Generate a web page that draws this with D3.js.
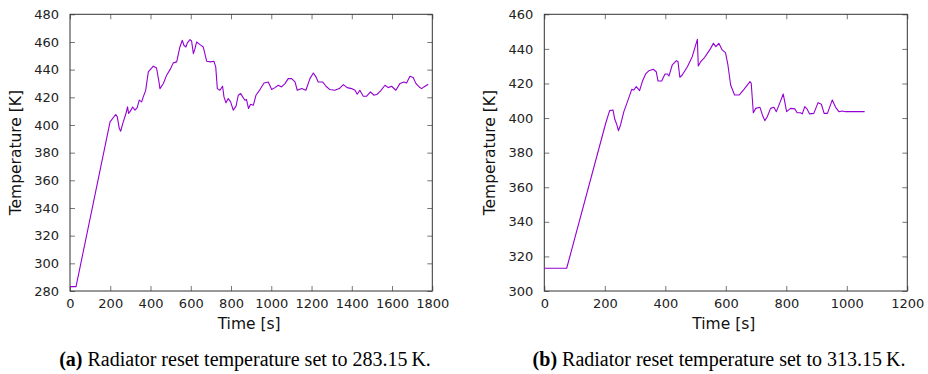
<!DOCTYPE html>
<html>
<head>
<meta charset="utf-8">
<script src="https://cdn.jsdelivr.net/npm/d3@7"></script>
<style>
  body { margin: 0; background: #fff; }
  svg { display: block; }
  .tick text { font-family: "DejaVu Sans", sans-serif; font-size: 13px; fill: #222; }
  .axis-label { font-family: "DejaVu Sans", sans-serif; font-size: 15.5px; fill: #111; }
  .caption { font-family: "Liberation Serif", "Times New Roman", serif; font-size: 20px; fill: #000; }
</style>
</head>
<body>
<div id="chart"></div>
<script>
// (a) reset temperature 283.15 K
const timeA = [0, 30, 199, 227, 235, 245, 252, 262, 278, 286, 291, 303, 311, 323, 334, 344, 356, 364, 376, 389,
  414, 430, 442, 447, 464, 480, 497, 513, 530, 546, 558, 566, 576, 583, 596, 604, 613, 621, 629, 646,
  662, 679, 699, 715, 724, 732, 745, 758, 765, 775, 786, 798, 811, 825, 836, 848, 858, 869, 877, 887,
  897, 911, 924, 944, 964, 985, 1002, 1018, 1035, 1051, 1068, 1084, 1101, 1118, 1129, 1151, 1172, 1192, 1209, 1222,
  1233, 1255, 1272, 1291, 1316, 1338, 1358, 1377, 1399, 1416, 1427, 1440, 1457, 1474, 1493, 1510, 1526, 1543, 1565, 1581,
  1598, 1619, 1639, 1659, 1672, 1689, 1705, 1719, 1735, 1747, 1758, 1780];
const tempA = [283.15, 283.15, 402.3, 407.6, 405.9, 397.4, 395.5, 401, 408.3, 413.1, 408.3, 410.7, 413, 410.7, 412.6, 418, 416.7, 420.3, 425, 438.4,
  442.5, 441.2, 431.1, 426.3, 430, 436, 440, 444.9, 445.6, 456.4, 461.2, 457.6, 456.4, 459.3, 461.7, 460.7, 451.6, 455.2, 460, 458.1,
  456.4, 446.1, 445.6, 446.1, 442, 426.3, 425.1, 428, 420.3, 416, 419.1, 416.7, 410.7, 413.6, 421.5, 422.7, 420.3, 417.9, 418.4, 411.9,
  415, 414.3, 421.5, 425.6, 430.4, 431.1, 425.6, 427, 428.7, 427.5, 429.9, 433.5, 433.5, 431.1, 425.1, 426.3, 425.1, 433.5, 437.6, 434.8,
  431.1, 431.1, 428, 425.6, 425.1, 426.3, 429.2, 427, 426.3, 425.1, 422.2, 425.1, 420.8, 420.8, 423.9, 421.5, 422.2, 424.6, 428.7, 427,
  428, 425.1, 429.9, 431.1, 430.4, 435.2, 434.3, 429.9, 427.5, 426.3, 427.5, 429.4];

// (b) reset temperature 313.15 K
const timeB = [0, 74, 203, 216, 227, 233, 239, 245, 252, 263, 277, 289, 296, 304, 315, 324, 335, 346, 360, 370,
  376, 388, 399, 407, 412, 423, 437, 442, 448, 456, 473, 489, 506, 509, 517, 528, 539, 550, 559, 567,
  577, 588, 599, 607, 616, 629, 644, 660, 680, 684, 691, 699, 713, 721, 729, 737, 748, 759, 767, 776,
  790, 801, 814, 828, 836, 847, 853, 861, 869, 877, 891, 905, 916, 925, 936, 944, 952, 963, 974, 985,
  996, 1059];
const tempB = [313.15, 313.15, 397, 404.3, 404.7, 399.3, 396.6, 392.7, 396, 403.7, 410.5, 416.6, 416.2, 418.2, 415.9, 421.1, 425.5, 427.4, 428.2, 426.8,
  421.4, 421.4, 425.5, 425.5, 424.3, 430.7, 433.2, 432.6, 423.6, 424.9, 429.7, 435.5, 445.5, 430.1, 432.6, 434.6, 437.4, 440.3, 443.2, 441.3,
  443.2, 439.4, 437.8, 430.7, 419.1, 413.3, 413.3, 416.6, 421.1, 420.1, 403.1, 405.6, 406.2, 401.8, 398.5, 400.8, 405.6, 406.2, 403.7, 407.6,
  413.9, 403.7, 405.6, 405.3, 403.1, 403.1, 402.4, 406.6, 405.1, 402.4, 402.7, 408.9, 408, 402.7, 402.7, 406.6, 410.5, 406.2, 403.7, 404.1,
  403.7, 403.7];

const xTicksA = [0, 200, 400, 600, 800, 1000, 1200, 1400, 1600, 1800];
const yTicksA = [280, 300, 320, 340, 360, 380, 400, 420, 440, 460, 480];
const xTicksB = [0, 200, 400, 600, 800, 1000, 1200];
const yTicksB = [300, 320, 340, 360, 380, 400, 420, 440, 460];

const captionA = ["(a)", " Radiator reset temperature set to 283.15\u2009K."];
const captionB = ["(b)", " Radiator reset temperature set to 313.15\u2009K."];

const svg = d3.select("#chart").append("svg")
    .attr("width", 928)
    .attr("height", 374);

function drawPanel(opts) {
    const { left, right, top, bottom, xDomain, yDomain, xTicks, yTicks, time, temp, id } = opts;
    const x = d3.scaleLinear().domain(xDomain).range([left, right]);
    const y = d3.scaleLinear().domain(yDomain).range([bottom, top]);
    const g = svg.append("g");

    g.append("clipPath").attr("id", id)
        .append("rect")
        .attr("x", left).attr("y", top)
        .attr("width", right - left).attr("height", bottom - top);

    const styleAxis = sel => {
        sel.select(".domain").remove();
        sel.selectAll(".tick line").attr("stroke", "#777");
    };

    g.append("g")
        .attr("transform", `translate(0,${bottom})`)
        .call(d3.axisBottom(x).tickValues(xTicks).tickSize(-5).tickPadding(8).tickFormat(d3.format("d")))
        .call(styleAxis);
    g.append("g")
        .attr("transform", `translate(0,${top})`)
        .call(d3.axisTop(x).tickValues(xTicks).tickSize(-5).tickFormat(""))
        .call(styleAxis);
    g.append("g")
        .attr("transform", `translate(${left},0)`)
        .call(d3.axisLeft(y).tickValues(yTicks).tickSize(-5).tickPadding(11).tickFormat(d3.format("d")))
        .call(styleAxis);
    g.append("g")
        .attr("transform", `translate(${right},0)`)
        .call(d3.axisRight(y).tickValues(yTicks).tickSize(-5).tickFormat(""))
        .call(styleAxis);

    g.selectAll(".tick text").attr("font-family", null).attr("font-size", null);

    g.append("rect")
        .attr("x", left).attr("y", top)
        .attr("width", right - left).attr("height", bottom - top)
        .attr("fill", "none")
        .attr("stroke", "#333")
        .attr("stroke-width", 1);

    const line = d3.line()
        .x((d, i) => x(time[i]))
        .y(d => y(d));

    g.append("path")
        .datum(temp)
        .attr("clip-path", `url(#${id})`)
        .attr("fill", "none")
        .attr("stroke", "#9400d3")
        .attr("stroke-width", 1.1)
        .attr("stroke-linejoin", "round")
        .attr("d", line);

    g.append("text")
        .attr("class", "axis-label")
        .attr("text-anchor", "middle")
        .attr("x", (left + right) / 2 - 2)
        .attr("y", 329)
        .text("Time [s]");

    g.append("text")
        .attr("class", "axis-label")
        .attr("text-anchor", "middle")
        .attr("transform", `translate(${left - 49},${(top + bottom) / 2}) rotate(-90)`)
        .text("Temperature [K]");
}

drawPanel({ id: "clipA", left: 70, right: 432.3, top: 14.3, bottom: 291,
    xDomain: [0, 1800], yDomain: [280, 480], xTicks: xTicksA, yTicks: yTicksA, time: timeA, temp: tempA });
drawPanel({ id: "clipB", left: 544.3, right: 907.3, top: 14.3, bottom: 291,
    xDomain: [0, 1200], yDomain: [300, 460], xTicks: xTicksB, yTicks: yTicksB, time: timeB, temp: tempB });

function caption(cx, parts) {
    const t = svg.append("text")
        .attr("class", "caption")
        .attr("text-anchor", "middle")
        .attr("x", cx)
        .attr("y", 366);
    t.append("tspan").attr("font-weight", "bold").text(parts[0]);
    t.append("tspan").text(parts[1]);
}
caption(245, captionA);
caption(719, captionB);
</script>
</body>
</html>
